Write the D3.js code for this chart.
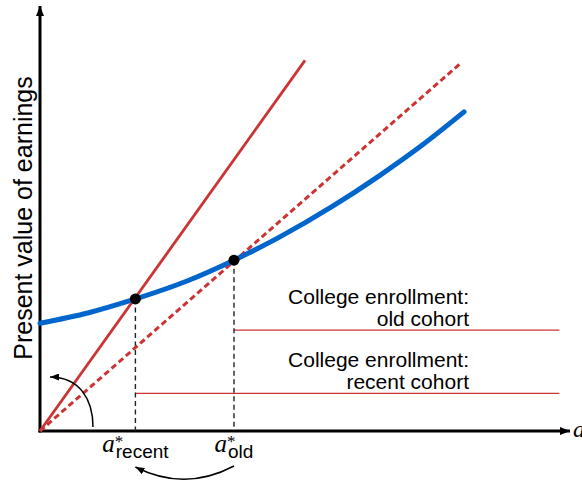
<!DOCTYPE html>
<html>
<head>
<meta charset="utf-8">
<script src="https://cdn.jsdelivr.net/npm/d3@7"></script>
<style>
  body { margin: 0; background: #fff; }
  text { font-family: "Liberation Sans", Arial, sans-serif; fill: #000; }
</style>
</head>
<body>
<svg id="chart" width="582" height="482"></svg>
<script>
// present value of earnings as a function of schooling age a
const curveA = [0, 0.9, 1.8, 2.75, 3.66, 4.5, 5.5, 6.4, 7.2, 8.0];
const curveV = [2.53, 2.77, 3.1, 3.51, 4.01, 4.54, 5.26, 5.99, 6.7, 7.49];

// rays from the origin (recent cohort steep, old cohort dashed)
const recentRayA = [0, 5.0];
const recentRayV = [0, 8.7];
const oldRayA = [0, 7.96];
const oldRayV = [0, 8.66];

// optimal a* for each cohort (tangency points)
const optimumA = [1.8, 3.66];
const optimumV = [3.1, 4.01];
const optimumSub = ["recent", "old"];

// college enrollment levels
const enrollLevel = [2.37, 0.885];
const enrollFrom = [3.66, 1.8];
const enrollTo = 9.8;
const enrollLabel = [["College enrollment:", "old cohort"], ["College enrollment:", "recent cohort"]];

const yTitle = "Present value of earnings";
const xTitle = "a";

const red = "#cc3333", blue = "#0066cc";

var svg = d3.select("#chart");

var x = d3.scaleLinear().domain([0, 10]).range([40, 570]);
var y = d3.scaleLinear().domain([0, 10]).range([431, 5]);

var defs = svg.append("defs");
function arrowMarker(id, len, wid) {
  defs.append("marker")
    .attr("id", id)
    .attr("viewBox", "0 0 " + len + " " + wid)
    .attr("refX", len).attr("refY", wid / 2)
    .attr("markerWidth", len).attr("markerHeight", wid)
    .attr("markerUnits", "userSpaceOnUse")
    .attr("orient", "auto")
    .append("path")
    .attr("d", "M0,0L" + len + "," + wid / 2 + "L0," + wid + "Z")
    .attr("fill", "#000");
}
arrowMarker("axisArrow", 10, 8);
arrowMarker("smallArrow", 9, 7);

// axes
svg.append("line")
  .attr("x1", x(0) - 1.5).attr("y1", y(0))
  .attr("x2", x(10)).attr("y2", y(0))
  .attr("stroke", "#000").attr("stroke-width", 3)
  .attr("marker-end", "url(#axisArrow)");
svg.append("line")
  .attr("x1", x(0)).attr("y1", y(0) + 1.5)
  .attr("x2", x(0)).attr("y2", y(10) + 1)
  .attr("stroke", "#000").attr("stroke-width", 3)
  .attr("marker-end", "url(#axisArrow)");

svg.append("text")
  .attr("x", x(10) + 3).attr("y", y(0) + 6)
  .style("font-family", "'Liberation Serif', serif")
  .style("font-style", "italic")
  .style("font-size", "24px")
  .text(xTitle);

svg.append("text")
  .attr("transform", "translate(32," + 218 + ") rotate(-90)")
  .attr("text-anchor", "middle")
  .style("font-size", "25px")
  .text(yTitle);

// enrollment lines and labels
enrollLevel.forEach(function(v, i) {
  svg.append("line")
    .attr("x1", x(enrollFrom[i])).attr("x2", x(enrollTo))
    .attr("y1", y(v)).attr("y2", y(v))
    .attr("stroke", red).attr("stroke-width", 1.3);
  var t = svg.append("text")
    .attr("text-anchor", "end")
    .style("font-size", "21px");
  t.append("tspan").attr("x", 469).attr("y", y(v) - 26).text(enrollLabel[i][0]);
  t.append("tspan").attr("x", 469).attr("y", y(v) - 4).text(enrollLabel[i][1]);
});

// dashed drops to the axis
optimumA.forEach(function(a, i) {
  svg.append("line")
    .attr("x1", x(a)).attr("x2", x(a))
    .attr("y1", y(optimumV[i])).attr("y2", y(0))
    .attr("stroke", "#222").attr("stroke-width", 1.4)
    .attr("stroke-dasharray", "5,3.5");
});

var line = d3.line()
  .x(function(d) { return x(d[0]); })
  .y(function(d) { return y(d[1]); });

svg.append("path")
  .datum(d3.zip(oldRayA, oldRayV))
  .attr("d", line)
  .attr("fill", "none").attr("stroke", red).attr("stroke-width", 3)
  .attr("stroke-dasharray", "6,3.5");

svg.append("path")
  .datum(d3.zip(recentRayA, recentRayV))
  .attr("d", line)
  .attr("fill", "none").attr("stroke", red).attr("stroke-width", 2.8);

svg.append("path")
  .datum(d3.zip(curveA, curveV))
  .attr("d", line.curve(d3.curveMonotoneX))
  .attr("fill", "none").attr("stroke", blue).attr("stroke-width", 5)
  .attr("stroke-linecap", "round");

svg.selectAll("circle.opt")
  .data(d3.zip(optimumA, optimumV))
  .join("circle")
  .attr("class", "opt")
  .attr("cx", function(d) { return x(d[0]); })
  .attr("cy", function(d) { return y(d[1]); })
  .attr("r", 5.5)
  .attr("fill", "#000");

// a* labels under the axis
optimumA.forEach(function(a, i) {
  var g = svg.append("g");
  var ta = g.append("text")
    .attr("x", 0).attr("y", 0)
    .style("font-family", "'Liberation Serif', serif")
    .style("font-style", "italic")
    .style("font-size", "25px")
    .text("a");
  var wa = ta.node().getComputedTextLength() + 1;
  g.append("text")
    .attr("x", wa - 1).attr("y", -5)
    .style("font-family", "'Liberation Serif', serif")
    .style("font-size", "17px")
    .text("*");
  var ts = g.append("text")
    .attr("x", wa).attr("y", 6)
    .style("font-size", "19px")
    .text(optimumSub[i]);
  var w = wa + ts.node().getComputedTextLength();
  g.attr("transform", "translate(" + (x(a) - w / 2) + "," + (y(0) + 21) + ")");
});

// curved arrows
svg.append("path")
  .attr("d", "M" + x(1) + "," + (y(0) - 4) + " C" + x(1) + "," + (y(0) - 31) + " " + (x(0) + 40) + "," + (y(0) - 54) + " " + (x(0) + 10) + "," + (y(0) - 54))
  .attr("fill", "none").attr("stroke", "#000").attr("stroke-width", 1.5)
  .attr("marker-end", "url(#smallArrow)");

svg.append("path")
  .attr("d", "M" + x(optimumA[1]) + "," + (y(0) + 35) + " Q" + ((x(optimumA[0]) + x(optimumA[1])) / 2) + "," + (y(0) + 61) + " " + x(optimumA[0]) + "," + (y(0) + 36))
  .attr("fill", "none").attr("stroke", "#000").attr("stroke-width", 1.5)
  .attr("marker-end", "url(#smallArrow)");
</script>
</body>
</html>
